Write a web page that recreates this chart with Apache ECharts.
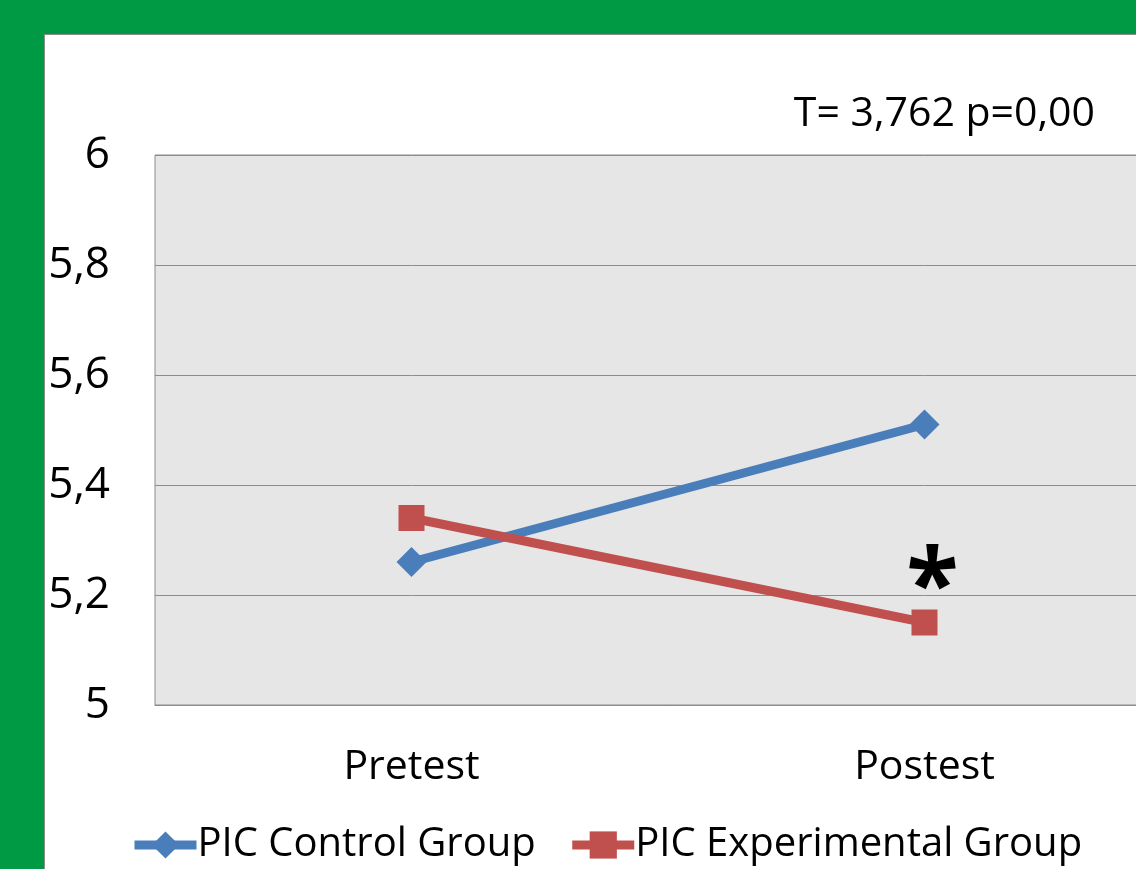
<!DOCTYPE html>
<html>
<head>
<meta charset="utf-8">
<script src="https://cdn.jsdelivr.net/npm/echarts@6/dist/echarts.min.js"></script>
<style>
  html, body { margin: 0; padding: 0; background: #009a44; width: 1136px; height: 869px; overflow: hidden; }
  #panel { position: absolute; left: 44px; top: 34px; width: 1100px; height: 850px; background: #fff; border: 1px solid #8c8c8c; overflow: hidden; }
  #chart { position: absolute; left: 0; top: 0; width: 1200px; height: 835px; }
</style>
</head>
<body>
<div id="panel"><div id="chart"></div></div>
<script>
var myChart = echarts.init(document.getElementById('chart'));

// data
var categories = ['Pretest', 'Postest'];
var controlGroup = [5.26, 5.51];
var experimentalGroup = [5.34, 5.15];
var seriesNames = ['PIC Control Group', 'PIC Experimental Group'];
var statText = 'T= 3,762 p=0,00';

var fontFam = '"Open Sans", sans-serif';

function fmt(v) {
    if (Math.abs(v - Math.round(v)) < 1e-9) return String(Math.round(v));
    return v.toFixed(1).replace('.', ',');
}

option = {
    animation: false,
    title: {
        text: statText,
        right: 145,
        top: 54,
        textStyle: { color: '#000', fontSize: 41, fontWeight: 'normal', fontFamily: fontFam }
    },
    grid: {
        show: true,
        left: 110,
        top: 120,
        width: 1026,
        height: 550,
        backgroundColor: '#e6e6e6',
        borderColor: '#8c8c8c',
        borderWidth: 1
    },
    legend: {
        data: seriesNames,
        bottom: 0,
        left: 80,
        itemWidth: 62,
        itemHeight: 34,
        itemGap: 32,
        lineStyle: { width: 9 },
        textStyle: { color: '#000', fontSize: 40, fontFamily: fontFam, padding: [0, 0, 0, -4] }
    },
    xAxis: {
        type: 'category',
        data: categories,
        boundaryGap: true,
        axisLine: { lineStyle: { color: '#8c8c8c', width: 1 } },
        axisTick: { show: false },
        axisLabel: { color: '#000', fontSize: 41, margin: 42, fontFamily: fontFam }
    },
    yAxis: {
        type: 'value',
        min: 5,
        max: 6,
        interval: 0.2,
        axisLine: { show: false },
        axisTick: { show: false },
        splitLine: { lineStyle: { color: '#8c8c8c', width: 1 } },
        axisLabel: { color: '#000', fontSize: 44, margin: 45, fontFamily: fontFam, formatter: fmt }
    },
    series: [
        {
            name: seriesNames[0],
            type: 'line',
            data: controlGroup,
            symbol: 'diamond',
            symbolSize: 30,
            lineStyle: { color: '#4a7ebb', width: 9 },
            itemStyle: { color: '#4a7ebb' }
        },
        {
            name: seriesNames[1],
            type: 'line',
            data: experimentalGroup,
            symbol: 'rect',
            symbolSize: 26,
            lineStyle: { color: '#c0504d', width: 9 },
            itemStyle: { color: '#c0504d' },
            markPoint: {
                symbol: 'circle',
                symbolSize: 0,
                data: [{ coord: ['Postest', 5.245] }],
                label: {
                    show: true,
                    position: 'inside',
                    formatter: '*',
                    color: '#000',
                    fontSize: 96,
                    fontWeight: 'bold',
                    fontFamily: fontFam,
                    offset: [8, 20]
                }
            }
        }
    ]
};

myChart.setOption(option);
</script>
</body>
</html>
